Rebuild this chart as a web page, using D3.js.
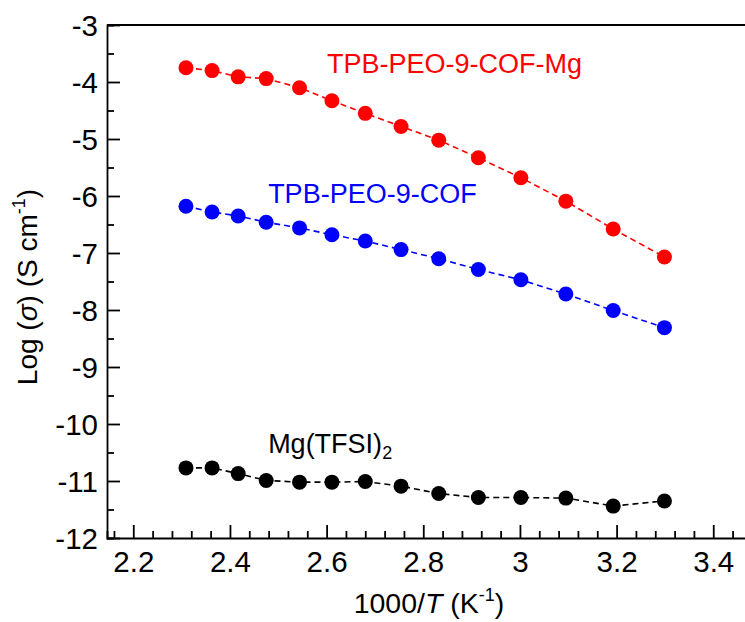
<!DOCTYPE html>
<html>
<head>
<meta charset="utf-8">
<script src="https://cdn.jsdelivr.net/npm/d3@7"></script>
<style>
	html, body { margin: 0; padding: 0; background: #fff; }
	svg text { font-family: "Liberation Sans", Arial, sans-serif; }
</style>
</head>
<body>
<div id="chart"></div>
<script>
// 1000/T values (K^-1), 160 °C down to 30 °C
const invT = [2.309, 2.363, 2.417, 2.475, 2.544, 2.611, 2.680, 2.754, 2.832, 2.914, 3.002, 3.095, 3.193, 3.299];

// Log(sigma) values
const cofMg = [-3.75, -3.80, -3.91, -3.94, -4.10, -4.33, -4.55, -4.78, -5.02, -5.33, -5.68, -6.09, -6.58, -7.07];
const cof = [-6.18, -6.28, -6.35, -6.46, -6.56, -6.68, -6.79, -6.94, -7.10, -7.29, -7.47, -7.72, -8.01, -8.31];
const mgTfsi = [-10.77, -10.77, -10.87, -10.99, -11.02, -11.02, -11.01, -11.09, -11.22, -11.29, -11.29, -11.30, -11.44, -11.35];

const xTicks = [2.2, 2.4, 2.6, 2.8, 3.0, 3.2, 3.4];
const yTicks = [-3, -4, -5, -6, -7, -8, -9, -10, -11, -12];

const series = [
	{name: "TPB-PEO-9-COF-Mg", values: cofMg, color: "#ff0000", label: [2.601, -3.842]},
	{name: "TPB-PEO-9-COF", values: cof, color: "#0000ff", label: [2.479, -6.123]},
	{name: "Mg(TFSI)", sub: "2", values: mgTfsi, color: "#000000", label: [2.479, -10.51]}
];

(function() {
	const width = 745, height = 622;
	const left = 107, top = 25, bottom = 538;

	const svg = d3.select("#chart").append("svg")
		.attr("width", width).attr("height", height);

	const x = d3.scaleLinear().domain([2.1456, 3.47]).range([left, left + 1.3244 * 483.3]);
	const y = d3.scaleLinear().domain([-12, -3]).range([bottom, top]);

	const fmt = d => String(+d.toFixed(1));

	// x axis, ticks inward
	const xAxis = svg.append("g").attr("transform", `translate(0,${bottom})`);
	xAxis.call(d3.axisBottom(x).tickValues(d3.range(2.16, 3.465, 0.04)).tickSize(-7).tickFormat(""));
	xAxis.call(g => g.selectAll(".tick").filter(d => xTicks.some(t => Math.abs(t - d) < 1e-6)).remove());
	const xMajor = svg.append("g").attr("transform", `translate(0,${bottom})`);
	xMajor.call(d3.axisBottom(x).tickValues(xTicks).tickSize(-13).tickFormat(fmt));
	xMajor.select(".domain").remove();
	xMajor.selectAll(".tick text").attr("y", 0).attr("dy", 34).attr("font-size", 29.5);

	// y axis, ticks inward
	const yAxis = svg.append("g").attr("transform", `translate(${left},0)`);
	yAxis.call(d3.axisLeft(y).tickValues(d3.range(-11.5, -3, 1)).tickSize(-7).tickFormat(""));
	const yMajor = svg.append("g").attr("transform", `translate(${left},0)`);
	yMajor.call(d3.axisLeft(y).tickValues(yTicks).tickSize(-13).tickFormat(d => String(d)));
	yMajor.select(".domain").remove();
	yMajor.selectAll(".tick text").attr("x", -9).attr("dy", "0.36em").attr("font-size", 29.5);

	svg.selectAll(".domain, .tick line").attr("stroke", "#000").attr("stroke-width", 1.8);
	svg.selectAll(".tick text").attr("fill", "#000").attr("font-family", "Liberation Sans, Arial, sans-serif");

	// top frame
	svg.append("line")
		.attr("x1", left).attr("x2", width).attr("y1", top).attr("y2", top)
		.attr("stroke", "#000").attr("stroke-width", 1.8);

	const line = d3.line().x((d, i) => x(invT[i])).y(d => y(d));

	series.forEach(s => {
		svg.append("path")
			.attr("d", line(s.values))
			.attr("fill", "none").attr("stroke", s.color)
			.attr("stroke-width", 1.6).attr("stroke-dasharray", "6,4");
		svg.append("g").selectAll("circle").data(s.values).join("circle")
			.attr("cx", (d, i) => x(invT[i])).attr("cy", d => y(d))
			.attr("r", 7.5).attr("fill", s.color);
		const t = svg.append("text")
			.attr("x", x(s.label[0])).attr("y", y(s.label[1]))
			.attr("fill", s.color).attr("font-size", 27)
			.text(s.name);
		if (s.sub) t.append("tspan").attr("font-size", 18).attr("dy", 6).text(s.sub);
	});

	// axis titles
	const xt = svg.append("text")
		.attr("x", 429).attr("y", 613).attr("text-anchor", "middle")
		.attr("font-size", 28.5).attr("fill", "#000");
	xt.append("tspan").text("1000/");
	xt.append("tspan").attr("font-style", "italic").text("T");
	xt.append("tspan").text(" (K");
	xt.append("tspan").attr("font-size", 18).attr("dy", -12).text("-1");
	xt.append("tspan").attr("dy", 12).text(")");

	const yt = svg.append("text")
		.attr("transform", "translate(37,287) rotate(-90)")
		.attr("text-anchor", "middle").attr("font-size", 28).attr("fill", "#000");
	yt.append("tspan").text("Log (");
	yt.append("tspan").attr("font-style", "italic").text("\u03c3");
	yt.append("tspan").text(") (S cm");
	yt.append("tspan").attr("font-size", 18).attr("dy", -12).text("-1");
	yt.append("tspan").attr("dy", 12).text(")");
})();
</script>
</body>
</html>
